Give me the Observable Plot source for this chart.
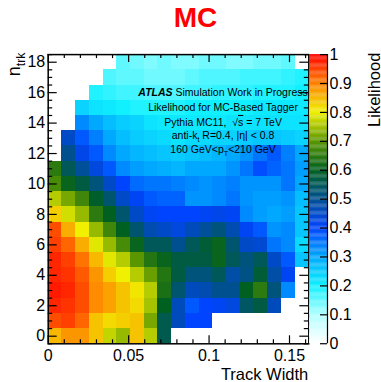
<!DOCTYPE html>
<html>
<head>
<meta charset="utf-8">
<script src="https://cdn.jsdelivr.net/npm/d3@7"></script>
<script src="https://cdn.jsdelivr.net/npm/@observablehq/plot@0.6"></script>
<style>
  body { margin: 0; background: #fff; }
  #chart { position: relative; width: 381px; height: 382px; }
  #chart svg { position: absolute; top: 0; overflow: visible; }
</style>
</head>
<body>
<div id="chart"></div>
<script>
// Track-width binning: 19 equal bins from 0 to the upper edge
const trackWidthMax = 0.162;
const trackWidthBinCount = 19;

// n_trk values (one row of bins per value)
const nTrk = [0, 1, 2, 3, 4, 5, 6, 7, 8, 9, 10, 11, 12, 13, 14, 15, 16, 17, 18];

// Likelihood per (n_trk row, track-width bin); null = empty bin
const likelihood = [
  [0.85, 0.88, 0.88, 0.84, 0.77, 0.74, 0.84, 0.76, 0.56, null, null, null, null, null, null, null, null, null, null],
  [0.94, 0.95, 0.92, 0.84, 0.82, 0.83, 0.84, 0.72, 0.56, 0.46, 0.40, 0.40, null, null, null, null, null, null, null],
  [0.97, 0.96, 0.94, 0.89, 0.87, 0.84, 0.82, 0.75, 0.60, 0.46, 0.38, 0.40, 0.41, 0.43, 0.54, 0.57, 0.46, null, null],
  [0.98, 0.97, 0.94, 0.89, 0.87, 0.84, 0.81, 0.76, 0.63, 0.53, 0.46, 0.47, 0.50, 0.50, 0.60, 0.65, 0.52, 0.33, null],
  [0.97, 0.96, 0.93, 0.88, 0.83, 0.80, 0.76, 0.71, 0.64, 0.57, 0.52, 0.52, 0.55, 0.48, 0.51, 0.58, 0.48, 0.41, null],
  [0.97, 0.95, 0.91, 0.85, 0.79, 0.76, 0.70, 0.64, 0.61, 0.57, 0.57, 0.57, 0.61, 0.55, 0.52, 0.55, 0.45, 0.38, 0.26],
  [0.95, 0.92, 0.86, 0.79, 0.74, 0.68, 0.61, 0.55, 0.55, 0.50, 0.55, 0.58, 0.61, 0.53, 0.45, 0.44, 0.35, 0.33, 0.23],
  [0.94, 0.86, 0.80, 0.74, 0.67, 0.60, 0.53, 0.47, 0.45, 0.43, 0.46, 0.49, 0.52, 0.47, 0.41, 0.38, 0.32, 0.33, 0.26],
  [0.83, 0.78, 0.74, 0.65, 0.60, 0.53, 0.45, 0.41, 0.40, 0.40, 0.40, 0.41, 0.42, 0.41, 0.33, 0.31, 0.30, 0.31, 0.26],
  [0.76, 0.72, 0.67, 0.59, 0.53, 0.45, 0.41, 0.38, 0.37, 0.37, 0.32, 0.32, 0.33, 0.35, 0.32, 0.31, 0.31, 0.32, 0.27],
  [0.68, 0.61, 0.57, 0.52, 0.45, 0.40, 0.36, 0.35, 0.35, 0.34, 0.33, 0.32, 0.33, 0.34, 0.32, 0.32, 0.32, 0.35, 0.30],
  [0.65, 0.55, 0.49, 0.43, 0.38, 0.33, 0.31, 0.30, 0.29, 0.28, 0.30, 0.30, 0.30, 0.32, 0.35, 0.39, 0.37, 0.35, 0.31],
  [null, 0.50, 0.42, 0.38, 0.33, 0.30, 0.28, 0.27, 0.26, 0.25, 0.26, 0.27, 0.28, 0.30, 0.32, 0.35, 0.38, 0.34, 0.30],
  [null, 0.45, 0.38, 0.34, 0.30, 0.27, 0.25, 0.24, 0.23, 0.22, 0.23, 0.23, 0.24, 0.24, 0.25, 0.26, 0.26, 0.25, 0.24],
  [null, null, 0.33, 0.30, 0.27, 0.25, 0.24, 0.22, 0.21, 0.21, 0.21, 0.21, 0.21, 0.22, 0.22, 0.22, 0.22, 0.22, 0.22],
  [null, null, 0.24, 0.22, 0.21, 0.20, 0.19, 0.19, 0.19, 0.19, 0.20, 0.20, 0.20, 0.20, 0.20, 0.21, 0.21, 0.21, 0.21],
  [null, null, null, 0.19, 0.18, 0.17, 0.17, 0.16, 0.16, 0.16, 0.17, 0.17, 0.18, 0.18, 0.18, 0.19, 0.19, 0.19, 0.20],
  [null, null, null, null, 0.16, 0.15, 0.15, 0.14, 0.14, 0.14, 0.15, 0.16, 0.16, 0.16, 0.17, 0.17, 0.17, 0.18, 0.19],
  [null, null, null, null, null, 0.15, 0.14, 0.13, 0.14, 0.13, 0.13, 0.14, 0.14, 0.13, 0.13, 0.14, 0.14, 0.15, null]
];

// Axis ticks
const xTicks = [0, 0.05, 0.1, 0.15];
const xMinorTicks = [0.01, 0.02, 0.03, 0.04, 0.06, 0.07, 0.08, 0.09, 0.11, 0.12, 0.13, 0.14, 0.16];
const yTicks = [0, 2, 4, 6, 8, 10, 12, 14, 16, 18];
const yMinorTicks = [-0.5, 0.5, 1, 1.5, 2.5, 3, 3.5, 4.5, 5, 5.5, 6.5, 7, 7.5, 8.5, 9, 9.5, 10.5, 11, 11.5,
                     12.5, 13, 13.5, 14.5, 15, 15.5, 16.5, 17, 17.5, 18.5];
const zTicks = [0, 0.1, 0.2, 0.3, 0.4, 0.5, 0.6, 0.7, 0.8, 0.9, 1];

// Colour palette: white -> cyan -> blue -> dark green -> yellow -> red
const paletteStops  = [0, 0.1, 0.2, 0.3, 0.4, 0.5, 0.6, 0.7, 0.8, 0.9, 1];
const paletteColors = ["#ffffff", "#b0ffff", "#10f0ff", "#00a8ff", "#0044ff", "#005090",
                       "#006020", "#5a9600", "#f0f000", "#ff8000", "#ff0000"];

const FONT = "'Liberation Sans', Arial, Helvetica, sans-serif";
const W = 381, H = 382;
const mTop = 54.1, mBottom = 38.7, mLeft = 47.7, mRight = 72.7;
const frameW = W - mLeft - mRight, frameH = H - mTop - mBottom;

const colorScale = {type: "linear", domain: paletteStops, range: paletteColors, interpolate: "rgb", clamp: true};

const binWidth = trackWidthMax / trackWidthBinCount;
const cells = [];
likelihood.forEach((row, j) => row.forEach((v, i) => {
  if (v != null) cells.push({x1: i * binWidth, x2: (i + 1) * binWidth, y1: nTrk[j] - 0.5, y2: nTrk[j] + 0.5, v});
}));

const main = Plot.plot({
  width: W, height: H,
  marginTop: mTop, marginBottom: mBottom, marginLeft: mLeft, marginRight: mRight,
  x: {domain: [0, trackWidthMax]},
  y: {domain: [-0.5, 18.5]},
  color: colorScale,
  style: {fontFamily: FONT, fontSize: "16px", color: "black", background: "transparent"},
  marks: [
    Plot.rect(cells, {x1: "x1", x2: "x2", y1: "y1", y2: "y2", fill: "v", shapeRendering: "crispEdges"}),
    // inward ticks on all four sides
    Plot.tickX(xTicks, {x: d => d, insetTop: frameH - 8, stroke: "black", strokeWidth: 1.2}),
    Plot.tickX(xTicks, {x: d => d, insetBottom: frameH - 8, stroke: "black", strokeWidth: 1.2}),
    Plot.tickX(xMinorTicks, {x: d => d, insetTop: frameH - 4, stroke: "black", strokeWidth: 1.2}),
    Plot.tickX(xMinorTicks, {x: d => d, insetBottom: frameH - 4, stroke: "black", strokeWidth: 1.2}),
    Plot.tickY(yTicks, {y: d => d, insetRight: frameW - 9, stroke: "black", strokeWidth: 1.2}),
    Plot.tickY(yTicks, {y: d => d, insetLeft: frameW - 9, stroke: "black", strokeWidth: 1.2}),
    Plot.tickY(yMinorTicks, {y: d => d, insetRight: frameW - 4.5, stroke: "black", strokeWidth: 1.2}),
    Plot.tickY(yMinorTicks, {y: d => d, insetLeft: frameW - 4.5, stroke: "black", strokeWidth: 1.2}),
    Plot.frame({stroke: "black", strokeWidth: 1.5}),
    Plot.axisX(xTicks, {tickSize: 0, tickPadding: 6, tickFormat: d => String(d), label: null, fontSize: 16}),
    Plot.axisY(yTicks, {tickSize: 0, tickPadding: 3, tickFormat: d => String(d), label: null, fontSize: 16})
  ]
});

// Colour bar to the right of the frame
const barLeft = 309.3, barWidth = 18;
const barLevels = d3.range(0, 1, 0.004);
const colorbar = Plot.plot({
  width: W - barLeft, height: H,
  marginTop: mTop, marginBottom: mBottom, marginLeft: 0, marginRight: W - barLeft - barWidth,
  x: {domain: [0, 1], axis: null},
  y: {domain: [0, 1]},
  color: colorScale,
  style: {fontFamily: FONT, fontSize: "16px", color: "black", background: "transparent"},
  marks: [
    Plot.rect(barLevels, {x1: 0, x2: 1, y1: d => d, y2: d => Math.min(1, d + 0.0045), fill: d => d + 0.002}),
    Plot.ruleX([1], {stroke: "black", strokeWidth: 1.2}),
    Plot.tickY(zTicks, {y: d => d, insetLeft: barWidth - 7, stroke: "black", strokeWidth: 1.2}),
    Plot.axisY(zTicks, {anchor: "right", tickSize: 0, tickPadding: 2, tickFormat: d => String(d), label: null, fontSize: 16})
  ]
});

const chart = document.getElementById("chart");
main.style.left = "0px";
colorbar.style.left = barLeft + "px";
chart.appendChild(main);
chart.appendChild(colorbar);

// Rich text helper: parts may be bold/italic, subscripted or overlined
function richText(svg, {x, y, size, anchor = "start", rotate = 0, fill = "black", weight}, parts) {
  const t = svg.append("text")
    .attr("transform", `translate(${x},${y}) rotate(${rotate})`)
    .attr("text-anchor", anchor)
    .attr("font-family", FONT)
    .attr("font-size", size)
    .attr("fill", fill);
  if (weight) t.attr("font-weight", weight);
  let shift = 0;
  for (const p of parts) {
    const s = t.append("tspan").text(p.text);
    const target = p.sub ? size * 0.25 : 0;
    if (target !== shift) { s.attr("dy", target - shift); shift = target; }
    if (p.sub) s.attr("font-size", size * 0.68);
    if (p.bold) s.attr("font-weight", "bold");
    if (p.italic) s.attr("font-style", "italic");
    if (p.over) s.style("text-decoration", "overline");
  }
  return t;
}

const svg = d3.select(main);
const xs = main.scale("x"), ys = main.scale("y");

// Title
richText(svg, {x: 195.5, y: 27, size: 28, anchor: "middle", fill: "#ff0000", weight: "bold"}, [{text: "MC"}]);

// Axis titles
richText(svg, {x: mLeft + frameW, y: 380.3, size: 16.5, anchor: "end"}, [{text: "Track Width"}]);
richText(svg, {x: 20, y: mTop - 1.5, size: 18, anchor: "end", rotate: -90}, [{text: "n"}, {text: "trk", sub: true}]);
richText(svg, {x: 379.5, y: mTop - 1.5, size: 16.5, anchor: "end", rotate: -90}, [{text: "Likelihood"}]);

// Annotation block inside the frame
const annX = xs.apply(0.109);
const annSize = 10.5;
richText(svg, {x: annX, y: ys.apply(15.75), size: annSize, anchor: "middle"},
  [{text: "ATLAS", bold: true, italic: true}, {text: " Simulation Work in Progress"}]);
richText(svg, {x: annX, y: ys.apply(14.76), size: annSize, anchor: "middle"},
  [{text: "Likelihood for MC-Based Tagger"}]);
richText(svg, {x: annX, y: ys.apply(13.78), size: annSize, anchor: "middle"},
  [{text: "Pythia MC11,  \u221A"}, {text: "s", over: true}, {text: " = 7 TeV"}]);
richText(svg, {x: annX, y: ys.apply(12.9), size: annSize, anchor: "middle"},
  [{text: "anti-k"}, {text: "t", sub: true}, {text: " R=0.4, |\u03B7| < 0.8"}]);
richText(svg, {x: annX, y: ys.apply(12.0), size: annSize, anchor: "middle"},
  [{text: "160 GeV<p"}, {text: "T", sub: true}, {text: "<210 GeV"}]);
</script>
</body>
</html>
